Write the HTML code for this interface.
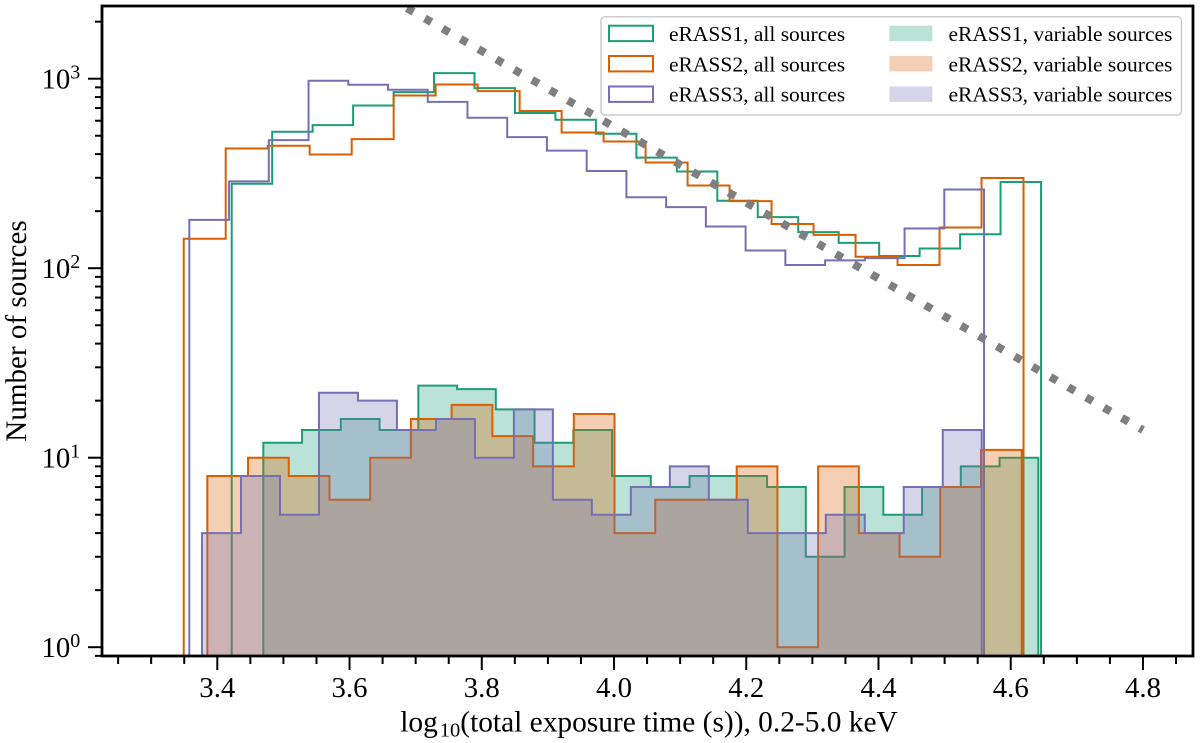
<!DOCTYPE html>
<html lang="en">
<head>
<meta charset="utf-8">
<title>Exposure time histogram</title>
<style>
html,body{margin:0;padding:0;background:#fff;}
svg{display:block;font-family:"Liberation Serif",serif;fill:#000;}
</style>
</head>
<body>
<svg id="chart" xmlns="http://www.w3.org/2000/svg" width="1200" height="743" viewBox="0 0 1200 743">
  <defs><clipPath id="plot-clip"><rect x="102" y="6" width="1091" height="650"/></clipPath></defs>
  <rect width="1200" height="743" fill="#fff"/>
  <g id="all-layer" clip-path="url(#plot-clip)"></g>
  <g id="var-layer" clip-path="url(#plot-clip)"></g>
  <g id="guide-layer" clip-path="url(#plot-clip)"></g>
  <g id="tick-layer" stroke="#000" stroke-width="2"></g>
  <g id="label-layer" font-size="28.8"></g>
  <rect x="102" y="6" width="1091" height="650" fill="none" stroke="#000" stroke-width="2.8"/>
  <text x="649" y="731.5" font-size="29.4" text-anchor="middle">log<tspan font-size="20.5" dx="2" dy="5">10</tspan><tspan dy="-5">(total exposure time (s)), 0.2-5.0 keV</tspan></text>
  <text transform="translate(26,331) rotate(-90)" font-size="29.1" text-anchor="middle">Number of sources</text>
  <g font-size="21.5">
    <rect x="601" y="16.7" width="580.5" height="98.3" rx="4" fill="#fff" fill-opacity="0.8" stroke="#ccc" stroke-width="1.5"/>
    <rect x="609" y="25.7" width="44" height="15.4" fill="none" stroke="#1b9e77" stroke-width="2"/>
    <rect x="609" y="56" width="44" height="15.4" fill="none" stroke="#d95f02" stroke-width="2"/>
    <rect x="609" y="86.5" width="44" height="15.4" fill="none" stroke="#7570b3" stroke-width="2"/>
    <text x="669" y="41">eRASS1, all sources</text>
    <text x="669" y="71.3">eRASS2, all sources</text>
    <text x="669" y="101.7">eRASS3, all sources</text>
    <rect x="889.4" y="25.7" width="43" height="15.4" fill="#1b9e77" fill-opacity="0.3"/>
    <rect x="889.4" y="56" width="43" height="15.4" fill="#d95f02" fill-opacity="0.3"/>
    <rect x="889.4" y="86.5" width="43" height="15.4" fill="#7570b3" fill-opacity="0.3"/>
    <text x="948.5" y="41">eRASS1, variable sources</text>
    <text x="948.5" y="71.3">eRASS2, variable sources</text>
    <text x="948.5" y="101.7">eRASS3, variable sources</text>
  </g>
</svg>
<script>
// Histogram ranges (log10 exposure) and counts per bin.
const erass1AllRange = [3.4218, 4.6458];
const erass2AllRange = [3.3492, 4.6193];
const erass3AllRange = [3.3577, 4.5596];
const erass1VarRange = [3.4696, 4.6417];
const erass2VarRange = [3.3849, 4.6166];
const erass3VarRange = [3.3769, 4.5561];

const erass1All = [279,525,569,722,850,1070,892,659,607,512,383,324,227,186,155,136,116,127,151,285];
const erass2All = [143,428,443,398,480,815,932,860,675,520,466,361,273,226,171,150,115,104,164,299];
const erass3All = [180,287,474,975,929,874,755,622,492,417,326,237,210,166,124,104,110,113,162,260];

const erass1Var = [12,14,16,14,24,23,18,12,14,8,7,8,8,7,3,7,5,7,9,10];
const erass2Var = [8,10,8,6,10,16,19,13,9,17,4,6,6,9,1,9,4,3,7,11];
const erass3Var = [4,8,5,22,20,14,16,10,18,6,5,7,9,6,4,4,5,4,7,14];

const guideX = [4.8, 3.3];
const guideCounts = [14, 14000];

const xMajorTicks = [3.4, 3.6, 3.8, 4.0, 4.2, 4.4, 4.6, 4.8];
const xMinorTicks = [3.25,3.3,3.35,3.45,3.5,3.55,3.65,3.7,3.75,3.85,3.9,3.95,4.05,4.1,4.15,4.25,4.3,4.35,4.45,4.5,4.55,4.65,4.7,4.75,4.85];
const yMajorExponents = [0, 1, 2, 3];
const yMinorMultipliers = [2, 3, 4, 5, 6, 7, 8, 9];
const yExtraMinorTicks = [0.9];

const GREEN = '#1b9e77', ORANGE = '#d95f02', PURPLE = '#7570b3';
const NS = 'http://www.w3.org/2000/svg';

function xScale(v) { return 217.3 + (v - 3.4) * 661.2; }
function yScale(c) { return 647.2 - 189.5 * Math.log10(c); }
function make(tag, parent) {
  const node = document.createElementNS(NS, tag);
  parent.appendChild(node);
  return node;
}
function stepPath(range, counts) {
  const width = (range[1] - range[0]) / counts.length;
  const base = yScale(0.5).toFixed(2);
  let d = 'M' + xScale(range[0]).toFixed(2) + ',' + base;
  counts.forEach(function (c, i) {
    d += 'V' + yScale(c).toFixed(2) + 'H' + xScale(range[0] + (i + 1) * width).toFixed(2);
  });
  return d + 'V' + base;
}

const allLayer = document.getElementById('all-layer');
[[erass1AllRange, erass1All, GREEN, 'erass1-all-step-line'],
 [erass2AllRange, erass2All, ORANGE, 'erass2-all-step-line'],
 [erass3AllRange, erass3All, PURPLE, 'erass3-all-step-line']].forEach(function (s) {
  const el = make('path', allLayer);
  
  
  el.setAttribute('d', stepPath(s[0], s[1]));
  el.setAttribute('fill', 'none');
  el.setAttribute('stroke', s[2]);
  el.setAttribute('stroke-width', '2');
});

const varLayer = document.getElementById('var-layer');
[[erass1VarRange, erass1Var, GREEN, 'erass1-variable-step-fill'],
 [erass2VarRange, erass2Var, ORANGE, 'erass2-variable-step-fill'],
 [erass3VarRange, erass3Var, PURPLE, 'erass3-variable-step-fill']].forEach(function (s) {
  const el = make('path', varLayer);
  
  
  el.setAttribute('d', stepPath(s[0], s[1]));
  el.setAttribute('fill', s[2]);
  el.setAttribute('fill-opacity', '0.3');
  el.setAttribute('stroke', s[2]);
  el.setAttribute('stroke-width', '2');
});

const guide = make('path', document.getElementById('guide-layer'));


guide.setAttribute('d', 'M' + xScale(guideX[0]) + ',' + yScale(guideCounts[0]) + 'L' + xScale(guideX[1]) + ',' + yScale(guideCounts[1]));
guide.setAttribute('fill', 'none');
guide.setAttribute('stroke', '#7f7f7f');
guide.setAttribute('stroke-width', '8');
guide.setAttribute('stroke-dasharray', '7.6 13');
guide.setAttribute('stroke-dashoffset', '3.8');

const tickLayer = document.getElementById('tick-layer');
const labelLayer = document.getElementById('label-layer');

xMajorTicks.forEach(function (v) {
  const t = make('line', tickLayer);
  
  
  t.setAttribute('x1', xScale(v));
  t.setAttribute('x2', xScale(v));
  t.setAttribute('y1', 656);
  t.setAttribute('y2', 670);
  const lab = make('text', labelLayer);
  
  
  lab.setAttribute('x', xScale(v));
  lab.setAttribute('y', 697);
  lab.setAttribute('text-anchor', 'middle');
  lab.textContent = v.toFixed(1);
});
xMinorTicks.forEach(function (v) {
  const t = make('line', tickLayer);
  
  
  t.setAttribute('x1', xScale(v));
  t.setAttribute('x2', xScale(v));
  t.setAttribute('y1', 656);
  t.setAttribute('y2', 664);
});

yMajorExponents.forEach(function (e) {
  const c = Math.pow(10, e);
  const t = make('line', tickLayer);
  
  
  t.setAttribute('x1', 88);
  t.setAttribute('x2', 102);
  t.setAttribute('y1', yScale(c));
  t.setAttribute('y2', yScale(c));
  const lab = make('text', labelLayer);
  
  
  lab.setAttribute('x', 41.5);
  lab.setAttribute('y', yScale(c) + 10);
  lab.textContent = '10';
  const sup = make('tspan', lab);
  
  
  sup.setAttribute('font-size', '20');
  sup.setAttribute('dy', '-10');
  sup.textContent = String(e);
});
const yMinorValues = yExtraMinorTicks.slice();
yMajorExponents.forEach(function (e) {
  yMinorMultipliers.forEach(function (m) {
    const c = m * Math.pow(10, e);
    if (yScale(c) > 6) yMinorValues.push(c);
  });
});
yMinorValues.forEach(function (c) {
  const t = make('line', tickLayer);
  
  
  t.setAttribute('x1', 95);
  t.setAttribute('x2', 102);
  t.setAttribute('y1', yScale(c));
  t.setAttribute('y2', yScale(c));
});
</script>
</body>
</html>
